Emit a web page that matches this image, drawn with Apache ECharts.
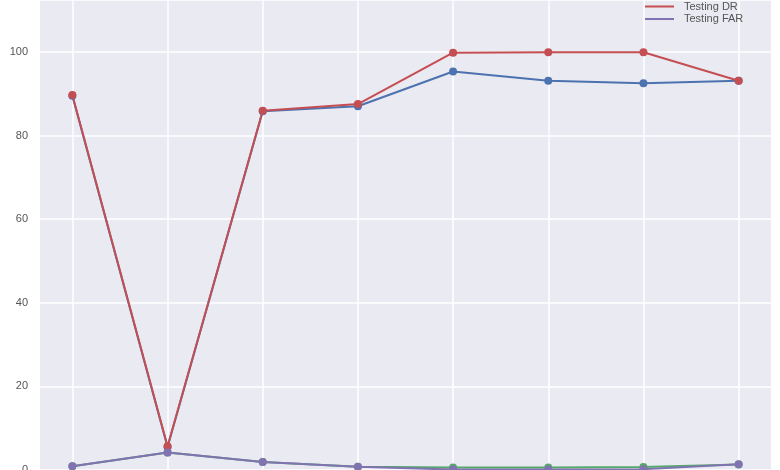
<!DOCTYPE html>
<html>
<head>
<meta charset="utf-8">
<script src="https://cdn.jsdelivr.net/npm/echarts@6/dist/echarts.min.js"></script>
<style>html,body{margin:0;padding:0;background:#fff;}#c{width:780px;height:470px;}</style>
</head>
<body>
<div id="c"></div>
<script>
var xs = [0, 1, 2, 3, 4, 5, 6, 7];
var trainingDR = [89.5, 5.5, 85.8, 87.0, 95.3, 93.1, 92.5, 93.1];
var trainingFAR = [0.9, 4.2, 1.9, 0.8, 0.6, 0.6, 0.7, 1.3];
var testingDR = [89.7, 5.7, 85.9, 87.5, 99.8, 99.9, 99.9, 93.1];
var testingFAR = [0.9, 4.2, 1.9, 0.8, 0.1, 0.1, 0.2, 1.4];
var yTicks = [0, 20, 40, 60, 80, 100];

function pts(v){ return xs.map(function(x,i){ return [x, v[i]]; }); }
function mk(name, color, vals){
  return {
    name: name, type: 'line', data: pts(vals), clip: false,
    symbol: 'circle', symbolSize: 8,
    lineStyle: {color: color, width: 2},
    itemStyle: {color: color},
    emphasis: {disabled: true}, animation: false
  };
}
var chart = echarts.init(document.getElementById('c'), null, {renderer: 'canvas'});
var txt = {color: '#555', fontSize: 11, fontFamily: 'Liberation Sans, Arial, sans-serif'};
function leg(name, top){
  return {data: [name], left: 645, top: top, padding: 0, icon: 'rect', itemWidth: 29, itemHeight: 2,
    selectedMode: false,
    formatter: function(n){ return '{s|}' + n; },
    textStyle: Object.assign({rich: {s: {width: 5}}}, txt)};
}
chart.setOption({
  animation: false,
  grid: {left: 40, right: 9, top: 0, bottom: 0, show: true, backgroundColor: '#EAEAF2', borderWidth: 0,
         containLabel: false, outerBoundsMode: 'none'},
  xAxis: {
    type: 'value', min: -0.34, max: 7.34,
    axisLine: {show: false},
    axisTick: {show: false, customValues: xs},
    axisLabel: {show: false, customValues: xs},
    splitLine: {show: true, lineStyle: {color: '#fff', width: 1.5}}
  },
  yAxis: {
    type: 'value', min: 0, max: 112.4, interval: 20,
    axisLine: {show: false}, axisTick: {show: false},
    axisLabel: Object.assign({margin: 12, showMaxLabel: false,
      formatter: function(v){ return yTicks.indexOf(v) >= 0 ? String(v) : ''; }}, txt),
    splitLine: {show: true, lineStyle: {color: '#fff', width: 1.5}}
  },
  legend: [leg('Testing DR', 1), leg('Testing FAR', 13.5)],
  series: [
    mk('Training DR', '#4C72B0', trainingDR),
    mk('Training FAR', '#55A868', trainingFAR),
    mk('Testing DR', '#C44E52', testingDR),
    mk('Testing FAR', '#8172B2', testingFAR)
  ]
});
</script>
</body>
</html>
